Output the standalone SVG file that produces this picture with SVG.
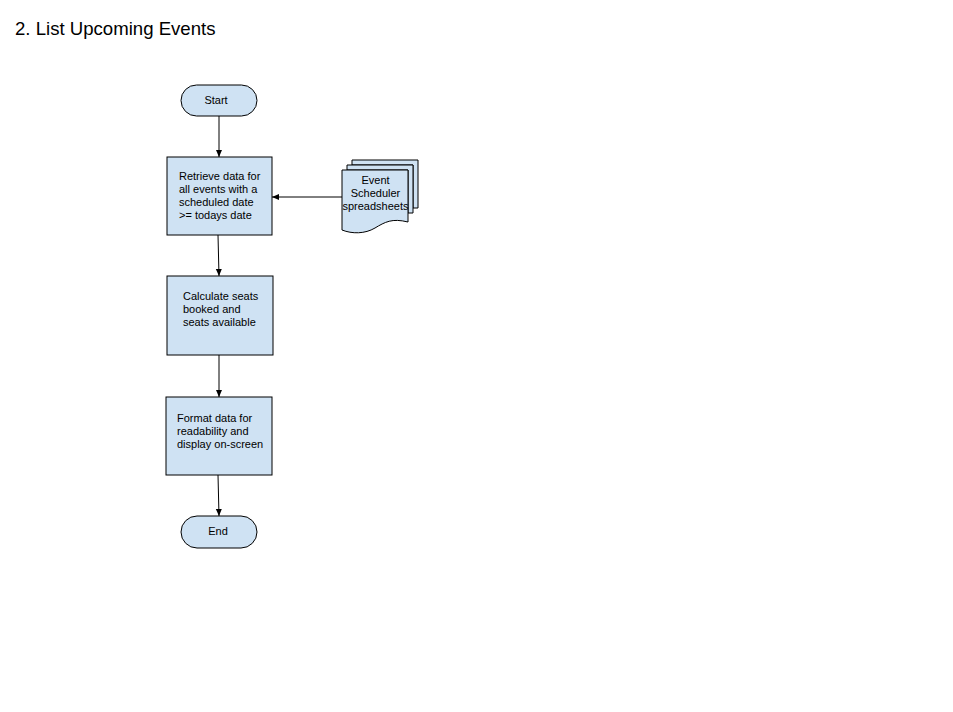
<svg xmlns="http://www.w3.org/2000/svg" width="953" height="712" viewBox="0 0 953 712">
<style>
.n{fill:#cfe2f3;stroke:#000;stroke-width:1}
.t{font-family:"Liberation Sans",Arial,sans-serif;font-size:11px;fill:#000}
.c{stroke:#000;stroke-width:1;fill:none}
</style>
<defs>
<marker id="a" markerWidth="8" markerHeight="8" refX="7" refY="4" orient="auto" markerUnits="userSpaceOnUse">
<path d="M0,1 L7,4 L0,7 Z" fill="#000"/>
</marker>
</defs>
<rect width="953" height="712" fill="#fff"/>
<text x="15" y="35" style="font-family:'Liberation Sans',Arial,sans-serif;font-size:18.6px;fill:#000">2. List Upcoming Events</text>
<g id="start">
<rect class="n" x="181" y="85" width="76" height="31" rx="15.5"/>
<text class="t" x="216" y="104" text-anchor="middle">Start</text>
</g>
<g id="retrieve">
<rect class="n" x="167" y="157" width="105" height="78"/>
<text class="t" x="179" y="180">Retrieve data for</text>
<text class="t" x="179" y="193">all events with a</text>
<text class="t" x="179" y="206">scheduled date</text>
<text class="t" x="179" y="219">&gt;= todays date</text>
</g>
<g id="calculate">
<rect class="n" x="167" y="276" width="106" height="79"/>
<text class="t" x="183" y="300">Calculate seats</text>
<text class="t" x="183" y="313">booked and</text>
<text class="t" x="183" y="326">seats available</text>
</g>
<g id="format">
<rect class="n" x="166" y="397" width="106" height="78"/>
<text class="t" x="177" y="422">Format data for</text>
<text class="t" x="177" y="435">readability and</text>
<text class="t" x="177" y="448">display on-screen</text>
</g>
<g id="end">
<rect class="n" x="181" y="516" width="76" height="32" rx="16"/>
<text class="t" x="218" y="535" text-anchor="middle">End</text>
</g>
<g id="spreadsheets">
<path class="n" d="M352,160 H418 V208 H413 V165 H352 Z"/>
<path class="n" d="M347,165 H413 V213 H408 V170 H347 Z"/>
<path class="n" d="M342,170 H408 V222 C392,218 385,222 375,228 C365,234 352,234 342,230 Z"/>
<text class="t" x="375.5" y="184" text-anchor="middle">Event</text>
<text class="t" x="375.5" y="197" text-anchor="middle">Scheduler</text>
<text class="t" x="375.5" y="210" text-anchor="middle">spreadsheets</text>
</g>
<g id="connectors">
<line class="c" x1="219" y1="116" x2="219" y2="157" marker-end="url(#a)"/>
<line class="c" x1="218" y1="235" x2="219" y2="276" marker-end="url(#a)"/>
<line class="c" x1="219" y1="355" x2="219" y2="397" marker-end="url(#a)"/>
<line class="c" x1="218" y1="475" x2="219" y2="516" marker-end="url(#a)"/>
<line class="c" x1="342" y1="197" x2="272" y2="197" marker-end="url(#a)"/>
</g>
</svg>
